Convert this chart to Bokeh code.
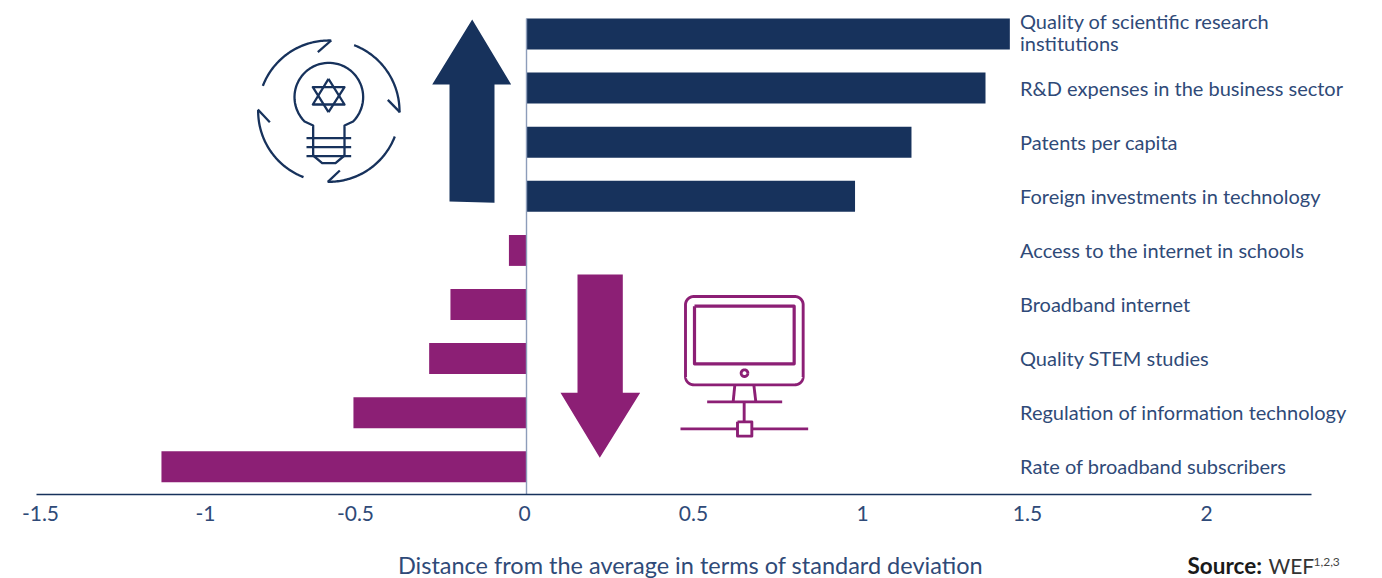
import numpy as np
from bokeh.embed import file_html
from bokeh.resources import INLINE
from bokeh.plotting import figure
from bokeh.models import Range1d, FixedTicker
from bokeh.core.properties import value

# ---- data ----
categories = ["Quality of scientific research\ninstitutions", "R&D expenses in the business sector",
              "Patents per capita", "Foreign investments in technology",
              "Access to the internet in schools", "Broadband internet", "Quality STEM studies",
              "Regulation of information technology", "Rate of broadband subscribers"]
values = [1.43, 1.358, 1.139, 0.972, -0.052, -0.225, -0.288, -0.512, -1.08]
tick_labels = ["-1.5", "-1", "-0.5", "0", "0.5", "1", "1.5", "2"]
axis_title = "Distance from the average in terms of standard deviation"

# ---- style / layout ----
NAVY = "#17325c"; PURPLE = "#8c1f75"; TEXT = "#2f4a78"; ZERO = "#8d9dba"
FONT = "Lato"
W, H = 1382, 578
PX_PER_UNIT = 338.0; ZERO_PX = 526.0
ROW0 = 33.5; ROW_STEP = 54.1
AXIS_PX = 494

def X(px): return (np.asarray(px, dtype=float) - ZERO_PX) / PX_PER_UNIT
def Y(py): return (np.asarray(py, dtype=float) - ROW0) / ROW_STEP

p = figure(width=W, height=H, output_backend="svg", toolbar_location=None,
           x_range=Range1d(float(X(0)), float(X(W))), y_range=Range1d(float(Y(H)), float(Y(0))),
           min_border=0, outline_line_color=None, background_fill_color="white",
           border_fill_color="white")
p.grid.visible = False
p.yaxis.visible = False

ax = p.xaxis[0]
tick_px = [40, 205, 355, 524, 693, 862, 1027, 1206]
ticks = [float(X(t)) for t in tick_px]
ax.fixed_location = float(Y(AXIS_PX))
ax.bounds = (float(X(36)), float(X(1311)))
ax.ticker = FixedTicker(ticks=ticks)
ax.major_label_overrides = dict(zip(ticks, tick_labels))
ax.major_tick_line_color = None
ax.minor_tick_line_color = None
ax.axis_line_color = NAVY
ax.axis_line_width = 1.3
ax.major_label_text_font = FONT
ax.major_label_text_font_size = "21px"
ax.major_label_text_color = TEXT
ax.major_label_standoff = 5

rows = np.arange(len(values))
colors = [NAVY if v > 0 else PURPLE for v in values]
p.hbar(y=rows, left=0, right=values, height=31 / ROW_STEP, color=colors, line_color=None)
p.segment(x0=[0], x1=[0], y0=[float(Y(18))], y1=[float(Y(494))], line_color=ZERO, line_width=1.4)

p.text(x=[float(X(1019.5))] * len(rows), y=rows + np.array([-2.0] + [-0.5] * 8) / ROW_STEP, text=categories,
       text_font=value(FONT), text_font_size="20px", text_color=TEXT,
       text_baseline="middle", text_line_height=0.93)

# ---- arrows ----
p.patch(X([471.7, 510.7, 494, 494, 449, 449, 431.7]), Y([19, 84, 84, 202.3, 201, 84, 84]),
        color=NAVY, line_color=None)
p.patch(X([577, 622.3, 622.3, 639.7, 599.3, 560, 577]), Y([274, 274, 392.3, 392.3, 457.3, 392.3, 392.3]),
        color=PURPLE, line_color=None)

# ---- bulb icon ----
def bulb(zx, zy):
    return X(240 + np.asarray(zx, float) / 3), Y(10 + np.asarray(zy, float) / 3)

def bline(zx, zy):
    x, y = bulb(zx, zy)
    p.line(x, y, line_color=NAVY, line_width=2.3, line_join="round")

def zarc(cx, cy, r, a0, a1):
    t = np.radians(np.linspace(a0, a1, 60))
    return cx + r * np.cos(t), cy + r * np.sin(t)

for a0, a1 in [(201, 272), (291, 361), (21, 91), (111, 181)]:
    bline(*zarc(265, 302, 212, a0, a1))
bline([232, 272], [125, 90])
bline([442, 478], [268, 305])
bline([298, 262], [480, 514])
bline([88, 52], [335, 297])

# lamp outline
ax_, ay_ = zarc(265, 260, 103, 135, 405)
bline(np.r_[218, 218, ax_, 312, 312], np.r_[435, 345, ay_, 345, 435])
bline([218, 245, 285, 312], [435, 458, 458, 435])
for zy in (383, 410, 437):
    bline([198, 332], [zy, zy])
bline([264, 312, 217, 264], [205, 282, 282, 205])
bline([264, 312, 217, 264], [305, 230, 230, 305])

# ---- monitor icon ----
def mon(zx, zy):
    return X(550 + np.asarray(zx, float) / 3), Y(265 + np.asarray(zy, float) / 3)

def mline(zx, zy, w=2.9):
    x, y = mon(zx, zy)
    p.line(x, y, line_color=PURPLE, line_width=w, line_join="round")

c1 = zarc(430, 118, 25, 180, 270); c2 = zarc(733, 118, 25, 270, 360)
c3 = zarc(733, 333, 25, 0, 90); c4 = zarc(430, 333, 25, 90, 180)
mline(np.r_[c1[0], c2[0], c3[0], c4[0], c1[0][0]], np.r_[c1[1], c2[1], c3[1], c4[1], c1[1][0]])
mline([432, 731, 731, 432, 432], [122, 122, 295, 295, 122], 3.2)
mline(*zarc(582, 323, 10, 0, 360))
mline([553, 548], [358, 409]); mline([610, 616], [358, 409])
mline([470, 695], [409, 409]); mline([581, 581], [409, 468])
mline([561, 604, 604, 561, 561], [469, 469, 512, 512, 469])
mline([390, 561], [490, 490]); mline([604, 773], [490, 490])

# ---- texts below the axis ----
def note(px, py, text, size, color, style="normal", align="left"):
    p.text(x=[float(X(px))], y=[float(Y(py))], text=[text], text_font=value(FONT),
           text_font_size=size, text_color=color, text_font_style=style,
           text_align=align, text_baseline="middle")

note(690, 564, axis_title, "23.5px", TEXT, align="center")
note(1187, 565, "Source:", "22.5px", "#1a1a1a", "bold")
note(1268, 565, "WEF", "21px", "#333333")
note(1313, 561, "1,2,3", "12px", "#444444")

open("out.html", "w").write(file_html(p, INLINE))
